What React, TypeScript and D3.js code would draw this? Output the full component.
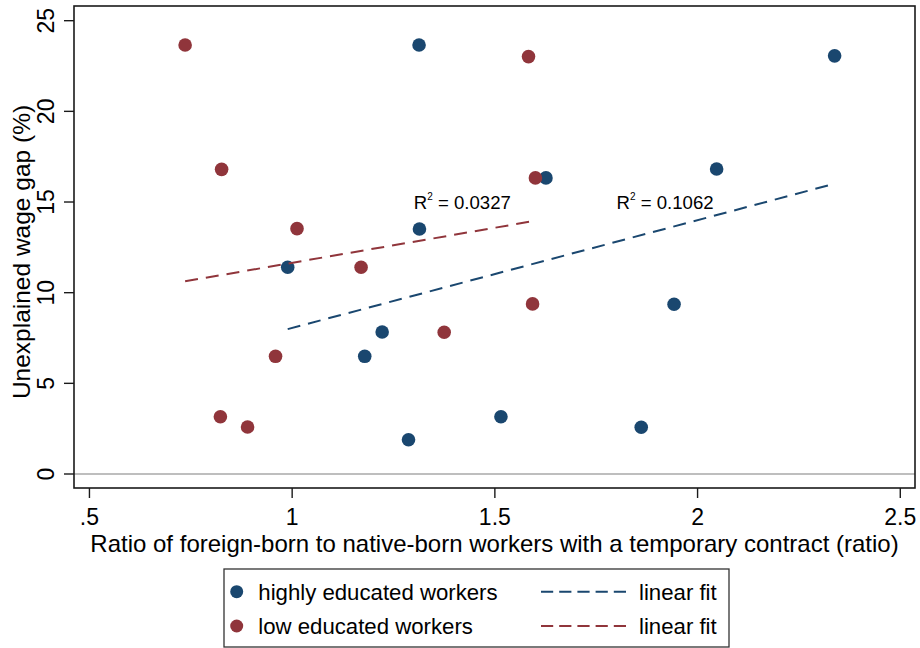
import React from "react";
import * as d3 from "d3";

const highX = [1.313, 2.338, 2.047, 1.626, 1.314, 0.989, 1.942, 1.222, 1.179, 1.515, 1.287, 1.861];
const highY = [23.66, 23.06, 16.82, 16.33, 13.51, 11.4, 9.36, 7.83, 6.49, 3.16, 1.89, 2.58];
const lowX = [0.736, 0.826, 1.012, 1.583, 1.6, 1.17, 1.593, 1.375, 0.959, 0.823, 0.89];
const lowY = [23.66, 16.8, 13.53, 23.02, 16.33, 11.4, 9.38, 7.82, 6.49, 3.16, 2.59];
const xTicks = [0.5, 1, 1.5, 2, 2.5];
const xTickLabels = [".5", "1", "1.5", "2", "2.5"];
const yTicks = [0, 5, 10, 15, 20, 25];
const r2Labels = [
  { x: 1.3, y: 15, value: "0.0327" },
  { x: 1.8, y: 15, value: "0.1062" },
];
const legendLabels = ["highly educated workers", "low educated workers"];
const fitLabel = "linear fit";
const xTitle = "Ratio of foreign-born to native-born workers with a temporary contract (ratio)";
const yTitle = "Unexplained wage gap (%)";

const BLUE = "#1a476f";
const RED = "#90353b";
const FONT = "'Liberation Sans', Arial, sans-serif";

function fit(xs: number[], ys: number[]) {
  const mx = d3.mean(xs)!;
  const my = d3.mean(ys)!;
  let sxy = 0, sxx = 0;
  xs.forEach((x, i) => {
    sxy += (x - mx) * (ys[i] - my);
    sxx += (x - mx) * (x - mx);
  });
  const b = sxy / sxx;
  const a = my - b * mx;
  const [x0, x1] = d3.extent(xs) as [number, number];
  return [
    [x0, a + b * x0],
    [x1, a + b * x1],
  ] as [number, number][];
}

export default function App() {
  const L = 74, R = 915, T = 6, B = 488;
  const x = d3.scaleLinear().domain([0.4619, 2.5363]).range([L, R]);
  const y = d3.scaleLinear().domain([-0.772, 25.81]).range([B, T]);
  const line = d3.line<[number, number]>().x((d) => x(d[0])).y((d) => y(d[1]));
  const fitHigh = fit(highX, highY);
  const fitLow = fit(lowX, lowY);

  return (
    <svg width={920} height={648} style={{ position: "absolute", left: 0, top: 0, background: "#fff" }} fontFamily={FONT}>
      <rect x={0} y={0} width={920} height={648} fill="#fff" />
      {/* zero line */}
      <line x1={L} x2={R} y1={y(0)} y2={y(0)} stroke="#a8a8a8" strokeWidth={1.3} />
      {/* points */}
      {highX.map((v, i) => (
        <circle key={"h" + i} cx={x(v)} cy={y(highY[i])} r={6.8} fill={BLUE} />
      ))}
      {lowX.map((v, i) => (
        <circle key={"l" + i} cx={x(v)} cy={y(lowY[i])} r={6.8} fill={RED} />
      ))}
      {/* fit lines */}
      <path d={line(fitHigh)!} stroke={BLUE} strokeWidth={2} fill="none" strokeDasharray="13 8" />
      <path d={line(fitLow)!} stroke={RED} strokeWidth={2} fill="none" strokeDasharray="13 8" />
      {/* R2 labels */}
      {r2Labels.map((d, i) => (
        <text key={"r" + i} x={x(d.x)} y={y(d.y)} dy="0.35em" fontSize={18.6} fill="#000">
          R
          <tspan fontSize={10} dy="-0.85em">2</tspan>
          <tspan dy="0.5em"> = {d.value}</tspan>
        </text>
      ))}
      {/* frame */}
      <rect x={L} y={T} width={R - L} height={B - T} fill="none" stroke="#1a1a1a" strokeWidth={1.6} />
      {/* y ticks */}
      {yTicks.map((t) => (
        <g key={"yt" + t}>
          <line x1={L - 10} x2={L} y1={y(t)} y2={y(t)} stroke="#1a1a1a" strokeWidth={1.4} />
          <text transform={`translate(54,${y(t)}) rotate(-90)`} textAnchor="middle" fontSize={23} fill="#000">
            {t}
          </text>
        </g>
      ))}
      {/* x ticks */}
      {xTicks.map((t, i) => (
        <g key={"xt" + t}>
          <line x1={x(t)} x2={x(t)} y1={B} y2={B + 10} stroke="#1a1a1a" strokeWidth={1.4} />
          <text x={x(t)} y={525} textAnchor="middle" fontSize={23} fill="#000">
            {xTickLabels[i]}
          </text>
        </g>
      ))}
      {/* axis titles */}
      <text x={(L + R) / 2} y={552} textAnchor="middle" fontSize={24} fill="#000">
        {xTitle}
      </text>
      <text transform={`translate(30,252) rotate(-90)`} textAnchor="middle" fontSize={24.5} fill="#000">
        {yTitle}
      </text>
      {/* legend */}
      <rect x={224} y={569} width={505} height={78} fill="#fff" stroke="#333" strokeWidth={1.3} />
      {[BLUE, RED].map((c, i) => {
        const cy = 591.7 + i * 34.3;
        return (
          <g key={"lg" + i}>
            <circle cx={236.7} cy={cy} r={6.5} fill={c} />
            <text x={258.3} y={cy + 8.3} fontSize={22.2} fill="#000">
              {legendLabels[i]}
            </text>
            <line x1={541} x2={626} y1={cy} y2={cy} stroke={c} strokeWidth={2} strokeDasharray="12.2 6" />
            <text x={639} y={cy + 8.3} fontSize={22.2} fill="#000">
              {fitLabel}
            </text>
          </g>
        );
      })}
    </svg>
  );
}
